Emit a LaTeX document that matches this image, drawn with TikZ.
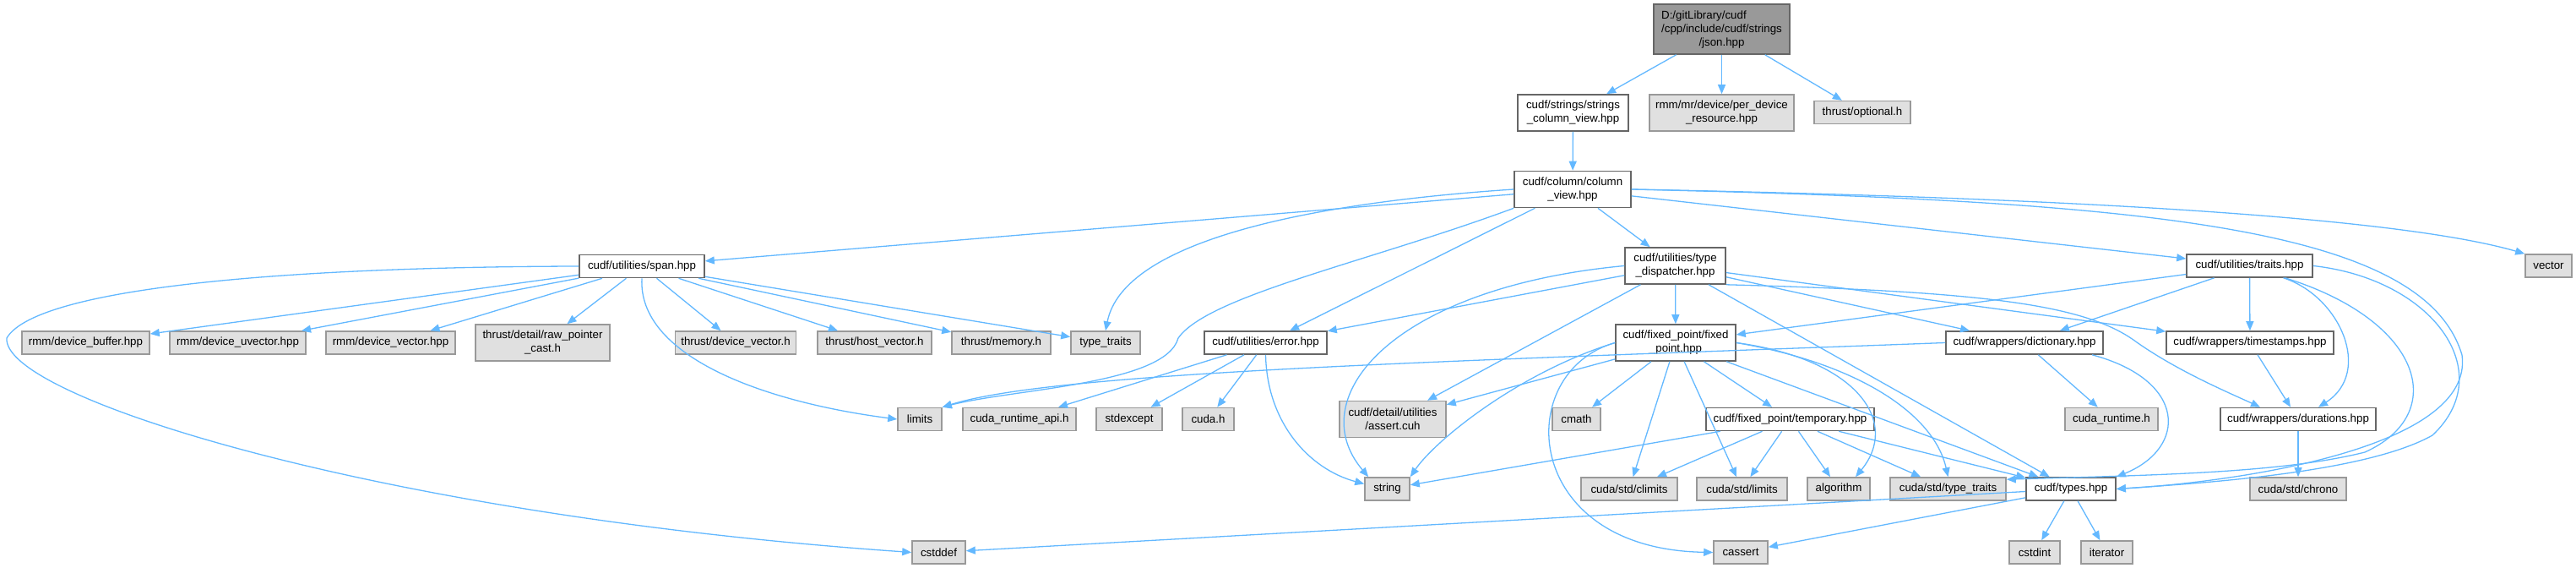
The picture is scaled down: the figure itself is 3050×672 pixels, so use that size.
\documentclass[tikz,border=0pt]{standalone}
\usepackage{fontspec}
\setmainfont{Liberation Sans}
\usetikzlibrary{arrows.meta, calc}
\definecolor{edgeblue}{HTML}{63B8FF}
\definecolor{extfill}{HTML}{E0E0E0}
\definecolor{extline}{HTML}{999999}
\definecolor{rootfill}{HTML}{999999}
\definecolor{boxline}{HTML}{666666}

\begin{document}
\begin{tikzpicture}[
        x=0.5pt, y=-0.5pt,
        box/.style={draw=boxline, fill=white, line width=0.8pt, align=center, inner xsep=2pt, inner ysep=0pt, minimum height=13.5pt, font=\fontsize{6.65}{8}\selectfont},
        twoline/.style={minimum height=21.5pt},
        extbox/.style={box, draw=extline, fill=extfill},
        rootbox/.style={box, fill=rootfill},
        arrow/.style={-{Triangle[length=5.5pt, width=4.5pt, fill=edgeblue]}, draw=edgeblue, line width=0.65pt}
    ]
    \useasboundingbox (0,0) rectangle (3050,672);

    \node[rootbox, minimum width=80.5pt, minimum height=29.5pt] (json) at (2038.5,34.5) {\begin{tabular}[b]{@{}l@{}}D:/gitLibrary/cudf\\/cpp/include/cudf/strings\end{tabular}\\/json.hpp};
    \node[box, twoline, minimum width=65.5pt] (strcol) at (1862.5,133.5) {cudf/strings/strings\\\_column\_view.hpp};
    \node[extbox, twoline, minimum width=85.5pt] (perdev) at (2038.5,133.5) {rmm/mr/device/per\_device\\\_resource.hpp};
    \node[extbox, minimum width=57pt] (optional) at (2205,133) {thrust/optional.h};
    \node[box, twoline, minimum width=69pt] (colview) at (1862,224) {cudf/column/column\\\_view.hpp};

    \node[box, minimum width=74pt] (span) at (760,315) {cudf/utilities/span.hpp};
    \node[box, twoline, minimum width=59.5pt] (typedisp) at (1983.5,314.5) {cudf/utilities/type\\\_dispatcher.hpp};
    \node[box, minimum width=74.5pt] (traits) at (2663.5,314.5) {cudf/utilities/traits.hpp};
    \node[extbox, minimum width=27.5pt] (vector) at (3017.5,314.5) {vector};

    \node[extbox, minimum width=75.5pt] (devbuf) at (101.5,405.5) {rmm/device\_buffer.hpp};
    \node[extbox, minimum width=80.5pt] (devuvec) at (281.5,405.5) {rmm/device\_uvector.hpp};
    \node[extbox, minimum width=76.5pt] (devvec) at (462.5,405.5) {rmm/device\_vector.hpp};
    \node[extbox, twoline, minimum width=79.5pt] (rawptr) at (642.5,405.5) {thrust/detail/raw\_pointer\\\_cast.h};
    \node[extbox, minimum width=71.5pt] (tdevvec) at (871,405.5) {thrust/device\_vector.h};
    \node[extbox, minimum width=67.5pt] (thostvec) at (1035.5,405.5) {thrust/host\_vector.h};
    \node[extbox, minimum width=58.5pt] (tmemory) at (1185.5,405.5) {thrust/memory.h};
    \node[extbox, minimum width=41pt] (typetraits) at (1309,405.5) {type\_traits};
    \node[box, minimum width=72.5pt] (error) at (1498.5,405.5) {cudf/utilities/error.hpp};
    \node[box, twoline, minimum width=71pt] (fixedpt) at (1984,405.5) {cudf/fixed\_point/fixed\\\_point.hpp};
    \node[box, minimum width=93pt] (dict) at (2397,405.5) {cudf/wrappers/dictionary.hpp};
    \node[box, minimum width=99pt] (tstamps) at (2664,405.5) {cudf/wrappers/timestamps.hpp};

    \node[extbox, minimum width=26pt] (limits) at (1089,496) {limits};
    \node[extbox, minimum width=67pt] (cudaapi) at (1207,496) {cuda\_runtime\_api.h};
    \node[extbox, minimum width=39pt] (stdexcept) at (1337,496) {stdexcept};
    \node[extbox, minimum width=30.5pt] (cudah) at (1430.5,496) {cuda.h};
    \node[extbox, twoline, minimum width=63pt] (assert) at (1649,496) {cudf/detail/utilities\\/assert.cuh};
    \node[extbox, minimum width=28.5pt] (cmath) at (1866.5,496) {cmath};
    \node[box, minimum width=99.5pt] (temporary) at (2119.5,496) {cudf/fixed\_point/temporary.hpp};
    \node[extbox, minimum width=55pt] (cudart) at (2500,496) {cuda\_runtime.h};
    \node[box, minimum width=92pt] (durations) at (2721,496) {cudf/wrappers/durations.hpp};

    \node[extbox, minimum width=26.5pt] (string) at (1642.5,578.5) {string};
    \node[extbox, minimum width=57pt] (climits) at (1929,578.5) {cuda/std/climits};
    \node[extbox, minimum width=53.5pt] (cstdlimits) at (2062.5,578.5) {cuda/std/limits};
    \node[extbox, minimum width=37pt] (algorithm) at (2177,578.5) {algorithm};
    \node[extbox, minimum width=68.5pt] (cstdtraits) at (2306.5,578.5) {cuda/std/type\_traits};
    \node[box, minimum width=53pt] (types) at (2452,578.5) {cudf/types.hpp};
    \node[extbox, minimum width=57pt] (chrono) at (2721,578.5) {cuda/std/chrono};

    \node[extbox, minimum width=31.5pt] (cstddef) at (1111.5,653.5) {cstddef};
    \node[extbox, minimum width=32pt] (cassert) at (2061,653.5) {cassert};
    \node[extbox, minimum width=30pt] (cstdint) at (2409,653.5) {cstdint};
    \node[extbox, minimum width=30.5pt] (iterator) at (2494.5,653.5) {iterator};

    \draw[arrow] (json) -- (strcol);
    \draw[arrow] (json) -- (perdev);
    \draw[arrow] (json) -- (optional);
    \draw[arrow] (strcol) -- (colview);

    \draw[arrow] (colview) -- (span);
    \draw[arrow] (colview.west) .. controls (1550,240) and (1330,285) .. (typetraits.north);
    \draw[arrow] (colview.south west) .. controls (1620,310) and (1430,350) .. (1395,400) .. controls (1380,455) and (1200,460) .. (limits.north east);
    \draw[arrow] (colview) -- (error);
    \draw[arrow] (colview) -- (typedisp);
    \draw[arrow] (colview) -- (traits);
    \draw[arrow] (colview.east) .. controls (2500,235) and (2850,260) .. (vector.north west);
    \draw[arrow] (colview.east) .. controls (2550,238) and (2870,270) .. (2915,420) .. controls (2930,530) and (2650,570) .. (types.east);

    \draw[arrow] (span.west) .. controls (300,316) and (40,345) .. (8,400) .. controls (2,470) and (450,610) .. (cstddef.west);
    \draw[arrow] (span) -- (devbuf);
    \draw[arrow] (span) -- (devuvec);
    \draw[arrow] (span) -- (devvec);
    \draw[arrow] (span) -- (rawptr);
    \draw[arrow] (span) -- (tdevvec);
    \draw[arrow] (span) -- (thostvec);
    \draw[arrow] (span) -- (tmemory);
    \draw[arrow] (span) -- (typetraits);
    \draw[arrow] (span.south) .. controls (755,420) and (900,475) .. (limits.west);

    \draw[arrow] (typedisp) -- (error);
    \draw[arrow] (typedisp.west) .. controls (1650,340) and (1540,470) .. ($(string.north west)+(5,0)$);
    \draw[arrow] (typedisp) -- (assert);
    \draw[arrow] (typedisp) -- (fixedpt);
    \draw[arrow] (typedisp) -- (dict);
    \draw[arrow] (typedisp) -- (tstamps);
    \draw[arrow] (typedisp.south east) .. controls (2350,345) and (2470,360) .. (2530,405) .. controls (2580,440) and (2640,465) .. ($(durations.north)+(-45,0)$);
    \draw[arrow] (typedisp) -- (types);

    \draw[arrow] (traits) -- (fixedpt);
    \draw[arrow] (traits) -- (dict);
    \draw[arrow] (traits) -- (tstamps);
    \draw[arrow] ($(traits.south)+(40,0)$) .. controls (2770,350) and (2810,440) .. ($(durations.north)+(24,0)$);
    \draw[arrow] ($(traits.south)+(42,0)$) .. controls (2870,380) and (2900,490) .. (2800,535) .. controls (2700,560) and (2550,562) .. ($(cstdtraits.north east)+(0,3)$);
    \draw[arrow] (traits.east) .. controls (2880,330) and (2960,440) .. (2880,515) .. controls (2800,560) and (2600,572) .. (types.east);

    \draw[arrow] (error) -- (cudaapi);
    \draw[arrow] (error) -- (stdexcept);
    \draw[arrow] (error) -- (cudah);
    \draw[arrow] (error.south) .. controls (1500,500) and (1550,555) .. ($(string.west)+(0,-6)$);

    \draw[arrow] (fixedpt) -- (assert);
    \draw[arrow] (fixedpt.west) .. controls (1800,440) and (1700,520) .. (string.north east);
    \draw[arrow] (fixedpt.west) .. controls (1790,440) and (1800,650) .. (cassert.west);
    \draw[arrow] (fixedpt) -- (cmath);
    \draw[arrow] (fixedpt) -- (temporary);
    \draw[arrow] (fixedpt) -- (climits);
    \draw[arrow] (fixedpt) -- (cstdlimits);
    \draw[arrow] (fixedpt.east) .. controls (2200,425) and (2250,500) .. ($(algorithm.north)+(20,0)$);
    \draw[arrow] (fixedpt.east) .. controls (2200,430) and (2290,490) .. (cstdtraits.north);
    \draw[arrow] (fixedpt) -- (types);

    \draw[arrow] (temporary) -- (string);
    \draw[arrow] (temporary) -- (climits);
    \draw[arrow] (temporary) -- (cstdlimits);
    \draw[arrow] (temporary) -- (algorithm);
    \draw[arrow] (temporary) -- (cstdtraits);
    \draw[arrow] (temporary) -- (types);

    \draw[arrow] (dict.west) .. controls (1700,428) and (1250,440) .. (limits.north east);
    \draw[arrow] (dict) -- (cudart);
    \draw[arrow] ($(dict.south)+(80,0)$) .. controls (2590,450) and (2590,530) .. (types.north east);

    \draw[arrow] (tstamps) -- (durations);
    \draw[arrow] (durations) -- (chrono);

    \draw[arrow] (types) -- (cstddef);
    \draw[arrow] (types) -- (cassert);
    \draw[arrow] (types) -- (cstdint);
    \draw[arrow] (types) -- (iterator);
\end{tikzpicture}
\end{document}
